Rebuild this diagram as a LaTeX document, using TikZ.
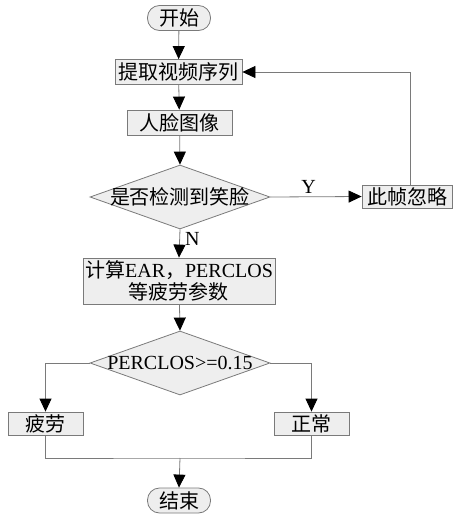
\documentclass[tikz,border=0pt]{standalone}
\usepackage{fontspec}
\setmainfont{Liberation Serif}
\newfontfamily\cjk{Noto Sans CJK SC}
\usetikzlibrary{shapes.geometric,arrows.meta}
\definecolor{linegray}{HTML}{7A7A7A}
\definecolor{boxfill}{HTML}{EEEEEE}
\begin{document}
\begin{tikzpicture}[x=1pt,y=-1pt,
  every node/.style={font=\fontsize{20}{22}\selectfont, inner sep=0pt},
  box/.style={draw=linegray, fill=boxfill, line width=0.8pt},
  term/.style={box, rounded corners=12pt, minimum width=63pt, minimum height=25pt},
  dia/.style={box, diamond, minimum width=180pt, minimum height=64pt},
  conn/.style={draw=linegray, line width=0.8pt},
  arr/.style={conn, -{Triangle[width=12pt,length=13pt,color=black]}}
]
\useasboundingbox (0,0) rectangle (454,515);
\node[term] (start) at (179,18) {\cjk 开始};
\node[box, minimum width=127pt, minimum height=25pt] (extract) at (178.5,72) {\cjk 提取视频序列};
\node[box, minimum width=105pt, minimum height=25pt] (face) at (179.5,122.5) {\cjk 人脸图像};
\node[dia] (d1) at (180,197) {};
\node (d1t) at (d1) {\cjk 是否检测到笑脸};
\node[box, minimum width=90pt, minimum height=23pt] (skip) at (407,196.5) {\cjk 此帧忽略};
\node[box, minimum width=192pt, minimum height=46pt, align=center] (calc) at (179,281) {{\cjk 计算}EAR{\cjk ，}PERCLOS\\{\cjk 等疲劳参数}};
\node[dia] (d2) at (180,363) {};
\node (d2t) at (d2) {PERCLOS>=0.15};
\node[box, minimum width=75pt, minimum height=23pt] (tired) at (45.5,423.5) {\cjk 疲劳};
\node[box, minimum width=75pt, minimum height=23pt] (normal) at (311.5,423.5) {\cjk 正常};
\node[term] (end) at (179,500.5) {\cjk 结束};
\coordinate (join) at (180,458);

\draw[arr] (start) -- (extract);
\draw[arr] (extract) -- (face);
\draw[arr] (face) -- (d1.north);
\draw[arr] (d1.east) -- node[pos=0.42, above=3pt] (ylab) {Y} (skip.west);
\draw[arr] ([xshift=3pt]skip.north) |- (extract.east);
\draw[arr] (d1.south) -- node[pos=0.35, right=5pt] (nlab) {N} (calc.north);
\draw[arr] (calc) -- (d2.north);
\draw[arr] (d2.west) -| (tired.north);
\draw[arr] (d2.east) -| (normal.north);
\draw[conn] (tired.south) |- (join) -| (normal.south);
\draw[arr] (join) -- (end.north);
\end{tikzpicture}
\end{document}
